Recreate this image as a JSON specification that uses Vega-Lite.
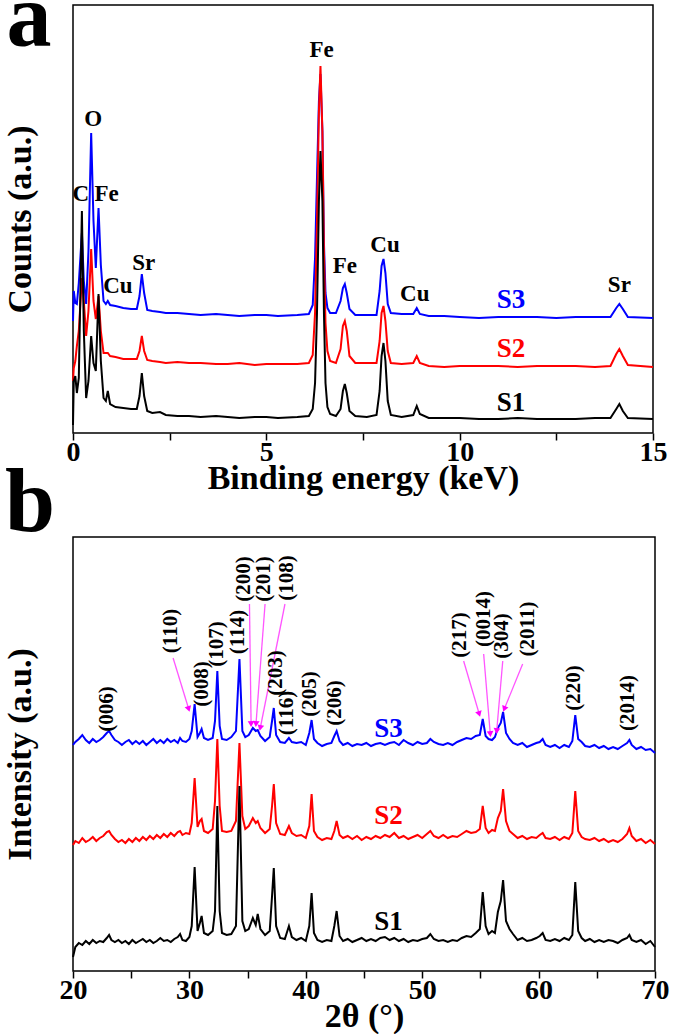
{
"$schema": "https://vega.github.io/schema/vega-lite/v6.json",
"padding": {"left": 2, "top": -27, "right": 0, "bottom": 0},
"background": "white",
"spacing": 104,
"bounds": "flush",
"config": {
  "view": {"stroke": "black", "strokeWidth": 1.5},
  "axis": {"labelFont": "Liberation Serif", "titleFont": "Liberation Serif", "labelFontWeight": "bold", "titleFontWeight": "bold", "labelColor": "black", "titleColor": "black", "grid": false, "domain": false, "tickColor": "black", "tickWidth": 1.5},
  "text": {"font": "Liberation Serif", "fontWeight": "bold"}
},
"datasets": {
  "eds": [
    {"x":0,"S1":8,"S2":52,"S3":112},{"x":0.02,"S1":52,"S2":65,"S3":142},{"x":0.06,"S1":57,"S2":72,"S3":130},{"x":0.10,"S1":40,"S2":87,"S3":129},{"x":0.15,"S1":55,"S2":102,"S3":150},{"x":0.23,"S1":222,"S2":155,"S3":200},{"x":0.28,"S1":102,"S2":132,"S3":152},{"x":0.34,"S1":35,"S2":97,"S3":129},{"x":0.40,"S1":52,"S2":122,"S3":182},{"x":0.47,"S1":97,"S2":184,"S3":300},{"x":0.53,"S1":70,"S2":132,"S3":212},{"x":0.59,"S1":62,"S2":114,"S3":165},{"x":0.66,"S1":139,"S2":137,"S3":225},{"x":0.72,"S1":72,"S2":102,"S3":168},{"x":0.79,"S1":35,"S2":80,"S3":132},{"x":0.85,"S1":32,"S2":80,"S3":129},{"x":0.90,"S1":42,"S2":80,"S3":132},{"x":0.96,"S1":29,"S2":77,"S3":128},{"x":1.1,"S1":26,"S2":76,"S3":127},{"x":1.3,"S1":25,"S2":74,"S3":125},{"x":1.5,"S1":24,"S2":74,"S3":124},{"x":1.65,"S1":24,"S2":74,"S3":124},{"x":1.72,"S1":37,"S2":82,"S3":137},{"x":1.78,"S1":60,"S2":97,"S3":159},{"x":1.84,"S1":37,"S2":82,"S3":140},{"x":1.92,"S1":22,"S2":73,"S3":123},{"x":2.05,"S1":20,"S2":72,"S3":122},{"x":2.25,"S1":21,"S2":71,"S3":121},{"x":2.4,"S1":18,"S2":70,"S3":120},{"x":2.7,"S1":17,"S2":71,"S3":120},{"x":3,"S1":17,"S2":70,"S3":119},{"x":3.3,"S1":16,"S2":70,"S3":118},{"x":3.7,"S1":17,"S2":69,"S3":119},{"x":4,"S1":16,"S2":69,"S3":118},{"x":4.3,"S1":15,"S2":70,"S3":117},{"x":4.7,"S1":16,"S2":68,"S3":118},{"x":5,"S1":16,"S2":69,"S3":118},{"x":5.3,"S1":15,"S2":69,"S3":117},{"x":5.8,"S1":16,"S2":69,"S3":118},{"x":6.1,"S1":17,"S2":70,"S3":119},{"x":6.2,"S1":24,"S2":78,"S3":128},{"x":6.26,"S1":50,"S2":120,"S3":175},{"x":6.31,"S1":120,"S2":210,"S3":255},{"x":6.36,"S1":232,"S2":322,"S3":332},{"x":6.40,"S1":282,"S2":367,"S3":359},{"x":6.45,"S1":232,"S2":302,"S3":302},{"x":6.49,"S1":120,"S2":180,"S3":190},{"x":6.53,"S1":50,"S2":110,"S3":140},{"x":6.58,"S1":26,"S2":82,"S3":125},{"x":6.65,"S1":19,"S2":72,"S3":120},{"x":6.8,"S1":17,"S2":70,"S3":120},{"x":6.92,"S1":24,"S2":84,"S3":132},{"x":6.98,"S1":42,"S2":107,"S3":145},{"x":7.03,"S1":49,"S2":112,"S3":149},{"x":7.08,"S1":40,"S2":102,"S3":140},{"x":7.15,"S1":22,"S2":77,"S3":124},{"x":7.3,"S1":17,"S2":70,"S3":118},{"x":7.6,"S1":16,"S2":70,"S3":118},{"x":7.85,"S1":18,"S2":70,"S3":118},{"x":7.93,"S1":42,"S2":92,"S3":142},{"x":7.98,"S1":77,"S2":120,"S3":167},{"x":8.03,"S1":90,"S2":127,"S3":174},{"x":8.08,"S1":72,"S2":112,"S3":160},{"x":8.14,"S1":32,"S2":82,"S3":129},{"x":8.22,"S1":18,"S2":70,"S3":120},{"x":8.5,"S1":16,"S2":69,"S3":119},{"x":8.8,"S1":18,"S2":70,"S3":119},{"x":8.89,"S1":27,"S2":77,"S3":125},{"x":8.97,"S1":19,"S2":70,"S3":119},{"x":9.2,"S1":15,"S2":67,"S3":117},{"x":9.6,"S1":15,"S2":66,"S3":117},{"x":10,"S1":15,"S2":67,"S3":116},{"x":10.5,"S1":14,"S2":67,"S3":115},{"x":11,"S1":14,"S2":67,"S3":116},{"x":11.5,"S1":15,"S2":66,"S3":116},{"x":12,"S1":14,"S2":67,"S3":116},{"x":12.5,"S1":14,"S2":67,"S3":115},{"x":13,"S1":14,"S2":67,"S3":116},{"x":13.5,"S1":15,"S2":66,"S3":116},{"x":13.9,"S1":15,"S2":67,"S3":116},{"x":14.05,"S1":24,"S2":79,"S3":125},{"x":14.13,"S1":29,"S2":84,"S3":129},{"x":14.22,"S1":22,"S2":77,"S3":124},{"x":14.35,"S1":15,"S2":68,"S3":116},{"x":15,"S1":14,"S2":66,"S3":115}
  ],
  "edsEl": [
    {"x":0.2,"y":239,"t":"C"},{"x":0.87,"y":239,"t":"Fe"},{"x":0.52,"y":314,"t":"O"},{"x":1.16,"y":147,"t":"Cu"},{"x":1.83,"y":170,"t":"Sr"},{"x":6.43,"y":383,"t":"Fe"},{"x":7.03,"y":167,"t":"Fe"},{"x":8.07,"y":188,"t":"Cu"},{"x":8.84,"y":139,"t":"Cu"},{"x":14.13,"y":148,"t":"Sr"}
  ],
  "edsS": [
    {"x":11.33,"y":133,"t":"S3"},{"x":11.33,"y":84,"t":"S2"},{"x":11.33,"y":30,"t":"S1"}
  ],
  "panelA": [{"x":-1.14,"y":387,"t":"a"}],
  "panelB": [{"x":16.31,"y":440,"t":"b"}],
  "xrd": [
    {"x":20.0,"S1":14,"S2":126,"S3":226},{"x":20.2,"S1":24,"S2":130,"S3":229},{"x":20.5,"S1":28,"S2":128,"S3":232},{"x":20.8,"S1":26,"S2":133,"S3":236},{"x":21.1,"S1":30,"S2":129,"S3":231},{"x":21.4,"S1":27,"S2":131,"S3":228},{"x":21.7,"S1":31,"S2":134,"S3":232},{"x":22.0,"S1":28,"S2":130,"S3":229},{"x":22.3,"S1":30,"S2":133,"S3":231},{"x":22.6,"S1":29,"S2":135,"S3":234},{"x":22.9,"S1":33,"S2":139,"S3":238},{"x":23.1,"S1":36,"S2":140,"S3":240},{"x":23.3,"S1":31,"S2":136,"S3":236},{"x":23.6,"S1":29,"S2":132,"S3":231},{"x":23.9,"S1":31,"S2":129,"S3":229},{"x":24.2,"S1":28,"S2":131,"S3":226},{"x":24.5,"S1":30,"S2":128,"S3":229},{"x":24.8,"S1":27,"S2":132,"S3":231},{"x":25.1,"S1":31,"S2":129,"S3":227},{"x":25.4,"S1":28,"S2":133,"S3":230},{"x":25.7,"S1":30,"S2":130,"S3":227},{"x":26.0,"S1":32,"S2":134,"S3":230},{"x":26.3,"S1":29,"S2":131,"S3":226},{"x":26.6,"S1":31,"S2":135,"S3":229},{"x":26.9,"S1":28,"S2":132,"S3":232},{"x":27.2,"S1":30,"S2":136,"S3":228},{"x":27.5,"S1":33,"S2":133,"S3":231},{"x":27.8,"S1":30,"S2":137,"S3":228},{"x":28.1,"S1":31,"S2":134,"S3":232},{"x":28.4,"S1":29,"S2":138,"S3":229},{"x":28.7,"S1":32,"S2":135,"S3":231},{"x":29.0,"S1":34,"S2":139,"S3":228},{"x":29.2,"S1":37,"S2":140,"S3":233},{"x":29.4,"S1":31,"S2":136,"S3":230},{"x":29.7,"S1":30,"S2":138,"S3":229},{"x":30.0,"S1":34,"S2":137,"S3":232},{"x":30.2,"S1":45,"S2":148,"S3":240},{"x":30.45,"S1":104,"S2":193,"S3":267},{"x":30.7,"S1":40,"S2":144,"S3":234},{"x":30.9,"S1":48,"S2":150,"S3":238},{"x":31.05,"S1":55,"S2":152,"S3":242},{"x":31.25,"S1":38,"S2":140,"S3":233},{"x":31.6,"S1":36,"S2":138,"S3":231},{"x":32.0,"S1":40,"S2":142,"S3":233},{"x":32.2,"S1":60,"S2":170,"S3":250},{"x":32.4,"S1":165,"S2":232,"S3":300},{"x":32.6,"S1":60,"S2":165,"S3":245},{"x":32.8,"S1":38,"S2":140,"S3":232},{"x":33.2,"S1":36,"S2":139,"S3":231},{"x":33.6,"S1":37,"S2":140,"S3":234},{"x":34.0,"S1":45,"S2":150,"S3":240},{"x":34.3,"S1":185,"S2":228,"S3":312},{"x":34.55,"S1":50,"S2":155,"S3":240},{"x":34.8,"S1":40,"S2":142,"S3":234},{"x":35.1,"S1":42,"S2":145,"S3":236},{"x":35.45,"S1":53,"S2":153,"S3":243},{"x":35.7,"S1":46,"S2":148,"S3":240},{"x":35.87,"S1":57,"S2":150,"S3":241},{"x":36.1,"S1":42,"S2":143,"S3":235},{"x":36.5,"S1":36,"S2":138,"S3":230},{"x":36.9,"S1":40,"S2":142,"S3":234},{"x":37.1,"S1":75,"S2":165,"S3":250},{"x":37.25,"S1":103,"S2":187,"S3":263},{"x":37.45,"S1":45,"S2":148,"S3":236},{"x":37.8,"S1":33,"S2":137,"S3":229},{"x":38.2,"S1":32,"S2":136,"S3":228},{"x":38.55,"S1":45,"S2":145,"S3":233},{"x":38.8,"S1":34,"S2":138,"S3":229},{"x":39.2,"S1":31,"S2":135,"S3":228},{"x":39.6,"S1":33,"S2":136,"S3":229},{"x":40.0,"S1":30,"S2":133,"S3":226},{"x":40.3,"S1":45,"S2":145,"S3":238},{"x":40.5,"S1":78,"S2":177,"S3":251},{"x":40.7,"S1":38,"S2":140,"S3":232},{"x":41.0,"S1":31,"S2":134,"S3":228},{"x":41.4,"S1":29,"S2":131,"S3":225},{"x":41.8,"S1":31,"S2":133,"S3":227},{"x":42.2,"S1":30,"S2":132,"S3":228},{"x":42.45,"S1":45,"S2":140,"S3":235},{"x":42.65,"S1":60,"S2":150,"S3":240},{"x":42.9,"S1":35,"S2":136,"S3":230},{"x":43.2,"S1":30,"S2":133,"S3":226},{"x":43.6,"S1":32,"S2":135,"S3":228},{"x":44.0,"S1":29,"S2":132,"S3":225},{"x":44.4,"S1":31,"S2":135,"S3":227},{"x":44.8,"S1":33,"S2":131,"S3":226},{"x":45.2,"S1":30,"S2":134,"S3":228},{"x":45.6,"S1":32,"S2":132,"S3":225},{"x":46.0,"S1":30,"S2":135,"S3":227},{"x":46.4,"S1":33,"S2":133,"S3":228},{"x":46.8,"S1":34,"S2":136,"S3":226},{"x":47.2,"S1":31,"S2":134,"S3":228},{"x":47.6,"S1":33,"S2":138,"S3":229},{"x":48.0,"S1":30,"S2":133,"S3":226},{"x":48.4,"S1":32,"S2":135,"S3":231},{"x":48.8,"S1":29,"S2":132,"S3":228},{"x":49.2,"S1":31,"S2":134,"S3":226},{"x":49.6,"S1":30,"S2":136,"S3":229},{"x":50.0,"S1":32,"S2":133,"S3":227},{"x":50.4,"S1":33,"S2":137,"S3":228},{"x":50.7,"S1":37,"S2":140,"S3":232},{"x":51.0,"S1":32,"S2":135,"S3":229},{"x":51.4,"S1":30,"S2":133,"S3":227},{"x":51.8,"S1":31,"S2":136,"S3":226},{"x":52.2,"S1":29,"S2":133,"S3":228},{"x":52.6,"S1":31,"S2":135,"S3":226},{"x":53.0,"S1":30,"S2":134,"S3":229},{"x":53.4,"S1":33,"S2":137,"S3":231},{"x":53.8,"S1":35,"S2":140,"S3":233},{"x":54.2,"S1":34,"S2":138,"S3":232},{"x":54.6,"S1":38,"S2":139,"S3":235},{"x":54.95,"S1":42,"S2":142,"S3":236},{"x":55.2,"S1":79,"S2":165,"S3":252},{"x":55.45,"S1":45,"S2":143,"S3":235},{"x":55.7,"S1":37,"S2":138,"S3":232},{"x":56.0,"S1":40,"S2":141,"S3":231},{"x":56.25,"S1":38,"S2":140,"S3":234},{"x":56.5,"S1":59,"S2":153,"S3":243},{"x":56.75,"S1":70,"S2":160,"S3":248},{"x":56.95,"S1":91,"S2":182,"S3":259},{"x":57.2,"S1":50,"S2":150,"S3":238},{"x":57.5,"S1":42,"S2":140,"S3":232},{"x":57.8,"S1":37,"S2":137,"S3":228},{"x":58.2,"S1":31,"S2":133,"S3":226},{"x":58.6,"S1":33,"S2":135,"S3":228},{"x":59.0,"S1":30,"S2":132,"S3":224},{"x":59.4,"S1":31,"S2":134,"S3":226},{"x":59.8,"S1":33,"S2":133,"S3":228},{"x":60.1,"S1":35,"S2":136,"S3":229},{"x":60.35,"S1":38,"S2":138,"S3":232},{"x":60.6,"S1":31,"S2":133,"S3":226},{"x":61.0,"S1":30,"S2":132,"S3":224},{"x":61.4,"S1":32,"S2":134,"S3":226},{"x":61.8,"S1":30,"S2":131,"S3":223},{"x":62.2,"S1":33,"S2":134,"S3":226},{"x":62.6,"S1":31,"S2":132,"S3":224},{"x":62.9,"S1":36,"S2":138,"S3":230},{"x":63.15,"S1":89,"S2":180,"S3":256},{"x":63.4,"S1":40,"S2":140,"S3":232},{"x":63.7,"S1":33,"S2":134,"S3":229},{"x":64.0,"S1":30,"S2":132,"S3":225},{"x":64.4,"S1":32,"S2":131,"S3":224},{"x":64.8,"S1":29,"S2":133,"S3":226},{"x":65.2,"S1":31,"S2":130,"S3":223},{"x":65.6,"S1":29,"S2":132,"S3":225},{"x":66.0,"S1":31,"S2":129,"S3":222},{"x":66.4,"S1":30,"S2":131,"S3":224},{"x":66.8,"S1":28,"S2":129,"S3":222},{"x":67.2,"S1":31,"S2":132,"S3":225},{"x":67.6,"S1":33,"S2":137,"S3":228},{"x":67.8,"S1":36,"S2":143,"S3":231},{"x":68.0,"S1":31,"S2":135,"S3":226},{"x":68.4,"S1":29,"S2":130,"S3":222},{"x":68.8,"S1":31,"S2":132,"S3":224},{"x":69.2,"S1":27,"S2":128,"S3":221},{"x":69.6,"S1":30,"S2":131,"S3":222},{"x":70.0,"S1":24,"S2":127,"S3":218}
  ],
  "hkl": [
    {"x":22.9,"y":262,"t":"(006)"},{"x":28.4,"y":340,"t":"(110)"},{"x":31.1,"y":287,"t":"(008)"},{"x":32.4,"y":327,"t":"(107)"},{"x":34.2,"y":339,"t":"(114)"},{"x":34.66,"y":392,"t":"(200)"},{"x":36.4,"y":392,"t":"(201)"},{"x":38.4,"y":393,"t":"(108)"},{"x":37.45,"y":298,"t":"(203)"},{"x":38.4,"y":258,"t":"(116)"},{"x":40.4,"y":277,"t":"(205)"},{"x":42.5,"y":268,"t":"(206)"},{"x":53.27,"y":336,"t":"(217)"},{"x":55.3,"y":352,"t":"(0014)"},{"x":56.85,"y":335,"t":"(304)"},{"x":59.1,"y":342,"t":"(2011)"},{"x":63.0,"y":283,"t":"(220)"},{"x":67.7,"y":268,"t":"(2014)"}
  ],
  "xrdS": [
    {"x":47.1,"y":242,"t":"S3"},{"x":47.1,"y":155,"t":"S2"},{"x":47.1,"y":49,"t":"S1"}
  ],
  "arrows": [
    {"x":28.6,"y":313,"x2":29.94,"y2":262},{"x":35.16,"y":367,"x2":35.3,"y2":247},{"x":36.5,"y":367,"x2":35.72,"y2":247},{"x":38.21,"y":367,"x2":36.09,"y2":243},{"x":53.56,"y":310,"x2":54.9,"y2":257},{"x":55.28,"y":317,"x2":55.85,"y2":237},{"x":56.92,"y":310,"x2":56.4,"y2":240},{"x":58.63,"y":307,"x2":57.05,"y2":262}
  ]
},
"vconcat": [
  {
    "width": 580, "height": 428,
    "encoding": {
      "x": {"field": "x", "type": "quantitative", "scale": {"domain": [0, 15], "nice": false, "zero": false},
            "axis": {"title": "Binding energy (keV)", "values": [0, 2.5, 5, 7.5, 10, 12.5, 15], "labelExpr": "datum.value % 5 === 0 ? format(datum.value, 'd') : ''", "tickSize": 7, "labelPadding": -2, "titlePadding": -5, "labelFontSize": 28, "titleFontSize": 34, "labelFlush": false, "labelOverlap": false}},
      "y": {"field": "y", "type": "quantitative", "scale": {"domain": [0, 428], "nice": false, "zero": false},
            "axis": {"title": "Counts (a.u.)", "ticks": false, "labels": false, "titlePadding": 36, "titleFontSize": 34}}
    },
    "layer": [
      {"data": {"name": "eds"}, "transform": [{"fold": ["S1", "S2", "S3"], "as": ["k", "y"]}, {"filter": "datum.k === 'S3'"}],
       "mark": {"type": "line", "color": "#0000ff", "strokeWidth": 2}},
      {"data": {"name": "eds"}, "transform": [{"fold": ["S1", "S2", "S3"], "as": ["k", "y"]}, {"filter": "datum.k === 'S2'"}],
       "mark": {"type": "line", "color": "#ff0000", "strokeWidth": 2}},
      {"data": {"name": "eds"}, "transform": [{"fold": ["S1", "S2", "S3"], "as": ["k", "y"]}, {"filter": "datum.k === 'S1'"}],
       "mark": {"type": "line", "color": "#000000", "strokeWidth": 2}},
      {"data": {"name": "edsEl"}, "mark": {"type": "text", "fontSize": 23, "color": "black", "baseline": "middle"},
       "encoding": {"text": {"field": "t"}}},
      {"data": {"name": "edsS"}, "mark": {"type": "text", "fontSize": 27, "baseline": "middle"},
       "encoding": {"text": {"field": "t"},
         "color": {"field": "t", "type": "nominal", "scale": {"domain": ["S1", "S2", "S3"], "range": ["#000000", "#ff0000", "#0000ff"]}, "legend": null}}},
      {"data": {"name": "panelA"}, "mark": {"type": "text", "fontSize": 90, "color": "black", "baseline": "alphabetic"},
       "encoding": {"text": {"field": "t"}}}
    ]
  },
  {
    "width": 582, "height": 434,
    "encoding": {
      "x": {"field": "x", "type": "quantitative", "scale": {"domain": [20, 70], "nice": false, "zero": false},
            "axis": {"title": "2θ (°)", "values": [20, 25, 30, 35, 40, 45, 50, 55, 60, 65, 70], "labelExpr": "datum.value % 10 === 0 ? format(datum.value, 'd') : ''", "tickSize": 7, "labelPadding": -2, "titlePadding": -5, "labelFontSize": 28, "titleFontSize": 34, "labelFlush": false, "labelOverlap": false}},
      "y": {"field": "y", "type": "quantitative", "scale": {"domain": [0, 434], "nice": false, "zero": false},
            "axis": {"title": "Intensity (a.u.)", "ticks": false, "labels": false, "titlePadding": 36, "titleFontSize": 34}}
    },
    "layer": [
      {"data": {"name": "xrd"}, "transform": [{"fold": ["S1", "S2", "S3"], "as": ["k", "y"]}, {"filter": "datum.k === 'S3'"}],
       "mark": {"type": "line", "color": "#0000ff", "strokeWidth": 2}},
      {"data": {"name": "xrd"}, "transform": [{"fold": ["S1", "S2", "S3"], "as": ["k", "y"]}, {"filter": "datum.k === 'S2'"}],
       "mark": {"type": "line", "color": "#ff0000", "strokeWidth": 2}},
      {"data": {"name": "xrd"}, "transform": [{"fold": ["S1", "S2", "S3"], "as": ["k", "y"]}, {"filter": "datum.k === 'S1'"}],
       "mark": {"type": "line", "color": "#000000", "strokeWidth": 2}},
      {"data": {"name": "arrows"}, "mark": {"type": "rule", "color": "#ff55ff", "strokeWidth": 1.3},
       "encoding": {"x2": {"field": "x2"}, "y2": {"field": "y2"}}},
      {"data": {"name": "arrows"},
       "transform": [{"calculate": "atan2(-(datum.x2 - datum.x) * 11.64, datum.y - datum.y2) * 180 / PI", "as": "ang"}, {"calculate": "datum.x2", "as": "x"}, {"calculate": "datum.y2", "as": "y"}],
       "mark": {"type": "point", "shape": "triangle-down", "filled": true, "color": "#ff00ff", "size": 45, "opacity": 1},
       "encoding": {"angle": {"field": "ang", "type": "quantitative", "scale": null}}},
      {"data": {"name": "hkl"}, "mark": {"type": "text", "fontSize": 21, "color": "black", "angle": 270, "baseline": "middle", "align": "center"},
       "encoding": {"text": {"field": "t"}}},
      {"data": {"name": "xrdS"}, "mark": {"type": "text", "fontSize": 27, "baseline": "middle"},
       "encoding": {"text": {"field": "t"},
         "color": {"field": "t", "type": "nominal", "scale": {"domain": ["S1", "S2", "S3"], "range": ["#000000", "#ff0000", "#0000ff"]}, "legend": null}}},
      {"data": {"name": "panelB"}, "mark": {"type": "text", "fontSize": 90, "color": "black", "baseline": "alphabetic"},
       "encoding": {"text": {"field": "t"}}}
    ]
  }
]
}
